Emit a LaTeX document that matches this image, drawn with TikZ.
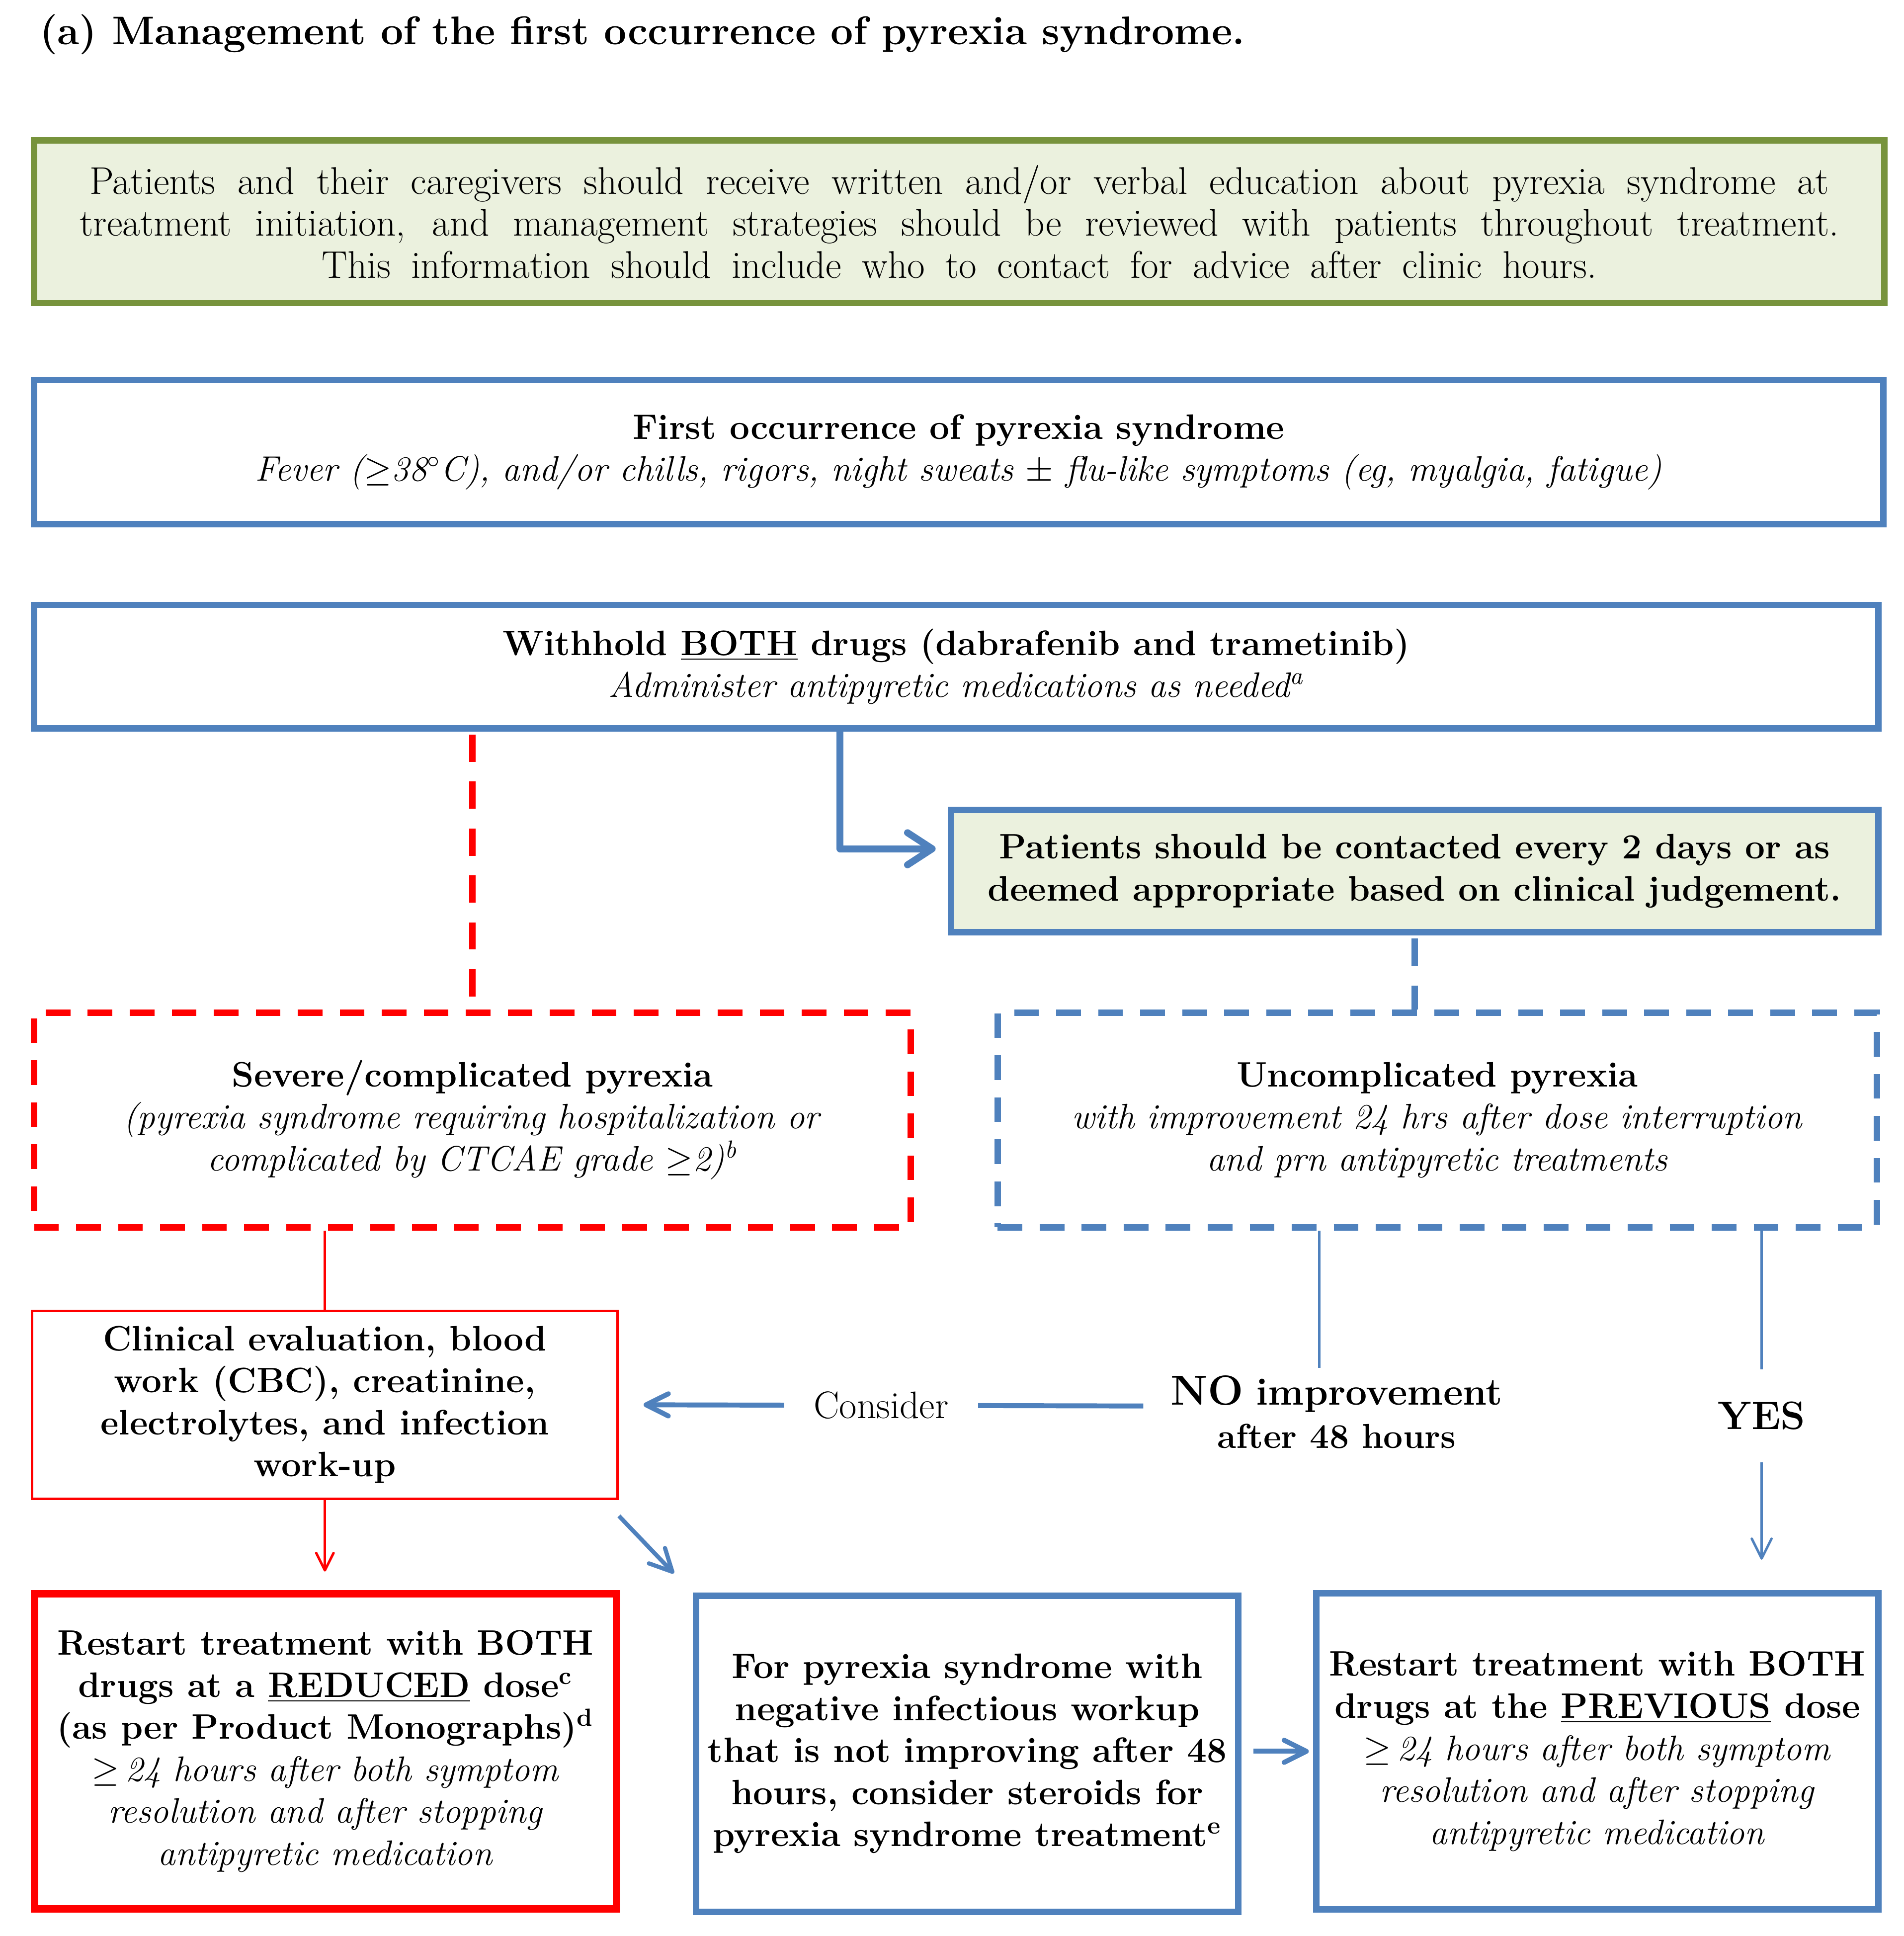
\documentclass[tikz,border=0pt]{standalone}
\usetikzlibrary{arrows.meta}
\definecolor{boxblue}{HTML}{4F81BD}
\definecolor{boxgreen}{HTML}{77933C}
\definecolor{lightgreen}{HTML}{EBF1DE}
\begin{document}
\begin{tikzpicture}[x=0.5pt,y=-0.5pt]

    \tikzset{flowbox/.style={draw,shape=rectangle,align=center,inner sep=2pt,font=\fontsize{14.3}{17}\selectfont},
        bluebox/.style={flowbox,draw=boxblue,line width=2.6pt},
        barbtip/.style={-{Straight Barb[round,length=#1,width=#1]}}}
    \useasboundingbox (0,0) rectangle (1541,1567);

    \node[anchor=west,inner sep=0pt,font=\fontsize{16.2}{19}\selectfont\bfseries] (title) at (32,28)
        {(a) Management of the first occurrence of pyrexia syndrome.};

    \node[flowbox,draw=boxgreen,fill=lightgreen,line width=2.6pt,font=\fontsize{15.6}{17}\selectfont,minimum width=748.9pt,minimum height=65.9pt] (edu) at (776.5,179.5)
        {\makebox[704pt][s]{Patients and their caregivers should receive written and/or verbal education about pyrexia syndrome at}\\
         \makebox[712pt][s]{treatment initiation, and management strategies should be reviewed with patients throughout treatment.}\\
         \makebox[516pt][s]{This information should include who to contact for advice after clinic hours.}};
    \node[bluebox,minimum width=748.4pt,minimum height=58.4pt] (first) at (776,366)
        {\textbf{First occurrence of pyrexia syndrome}\\
         \textit{Fever ($\geq$38$^{\circ}$C), and/or chills, rigors, night sweats $\pm$ flu-like symptoms (eg, myalgia, fatigue)}};
    \node[bluebox,minimum width=746.4pt,minimum height=49.9pt] (hold) at (774,539.5)
        {\textbf{Withhold \underline{BOTH} drugs (dabrafenib and trametinib)}\\
         \textit{Administer antipyretic medications as needed\textsuperscript{a}}};
    \node[bluebox,fill=lightgreen,font=\fontsize{14.3}{17}\selectfont\bfseries,minimum width=375.4pt,minimum height=49.4pt] (contact) at (1145,705)
        {Patients should be contacted every 2 days or as\\deemed appropriate based on clinical judgement.};

    \node[flowbox,draw=red,line width=2.6pt,dash pattern=on 10pt off 7pt,minimum width=354.9pt,minimum height=86.9pt] (severe) at (382.5,906.5)
        {\textbf{Severe/complicated pyrexia}\\
         \textit{(pyrexia syndrome requiring hospitalization or}\\
         \textit{complicated by CTCAE grade $\geq$2)\textsuperscript{b}}};
    \node[bluebox,dash pattern=on 10pt off 7pt,minimum width=355.9pt,minimum height=86.9pt] (uncomp) at (1163.5,906.5)
        {\textbf{Uncomplicated pyrexia}\\
         \textit{with improvement 24 hrs after dose interruption}\\
         \textit{and prn antipyretic treatments}};

    \node[flowbox,draw=red,line width=1pt,font=\fontsize{14.3}{17}\selectfont\bfseries,minimum width=237pt,minimum height=76pt] (clin) at (263,1137)
        {Clinical evaluation, blood\\work (CBC), creatinine,\\electrolytes, and infection\\work-up};
    \node[align=center,inner xsep=11pt,inner ysep=3pt,font=\fontsize{14}{17.5}\selectfont\bfseries] (noimp) at (1082,1143)
        {{\fontsize{17}{17}\selectfont NO} {\fontsize{15.5}{17}\selectfont improvement}\\after 48 hours};
    \node[inner ysep=13pt,font=\fontsize{16}{19}\selectfont\bfseries] (yes) at (1426,1146) {YES};

    \node[flowbox,draw=red,line width=3pt,minimum width=235.5pt,minimum height=127.5pt] (reduced) at (263.5,1417.5)
        {\textbf{Restart treatment with BOTH}\\
         \textbf{drugs at a \underline{REDUCED} dose\textsuperscript{c}}\\
         \textbf{(as per Product Monographs)\textsuperscript{d}}\\
         \textit{$\geq$\,24 hours after both symptom}\\
         \textit{resolution and after stopping}\\
         \textit{antipyretic medication}};
    \node[bluebox,font=\fontsize{14.3}{17}\selectfont\bfseries,minimum width=219.4pt,minimum height=127.9pt] (steroid) at (783,1419.5)
        {For pyrexia syndrome with\\negative infectious workup\\that is not improving after 48\\hours, consider steroids for\\pyrexia syndrome treatment\textsuperscript{e}};
    \node[bluebox,minimum width=227.4pt,minimum height=127.9pt] (prev) at (1293,1417.5)
        {\textbf{Restart treatment with BOTH}\\
         \textbf{drugs at the \underline{PREVIOUS} dose}\\
         \textit{$\geq$\,24 hours after both symptom}\\
         \textit{resolution and after stopping}\\
         \textit{antipyretic medication}};

    \begin{scope}[red]
        \draw[line width=2.6pt,dash pattern=on 11pt off 8pt,shorten <=1.3pt] (hold.south -| severe.north) -- (severe.north);
        \draw[line width=1pt] (severe.south -| clin.north) -- (clin.north);
        \draw[line width=1pt,barbtip=7pt,shorten >=7.5pt] (clin.south) -- (clin.south |- reduced.north);
    \end{scope}

    \begin{scope}[boxblue]
        \draw[line width=2.8pt,line join=round,-{Straight Barb[round,length=10pt,width=13pt]},shorten >=4.8pt]
            ([xshift=-47pt]hold.south) |- ([yshift=9pt]contact.west);
        \draw[line width=2.6pt,dash pattern=on 11pt off 8pt,shorten <=1.3pt] (contact.south) -- (contact.south |- uncomp.north);
        \coordinate (notop) at ([xshift=-7pt]noimp.north);
        \draw[line width=1pt] (notop |- uncomp.south) -- (notop);
        \draw[line width=1pt] (yes.north |- uncomp.south) -- (yes.north);
        \draw[line width=1pt,barbtip=8pt,shorten >=12.3pt] (yes.south) -- (yes.south |- prev.north);
        \draw[line width=2pt,barbtip=9pt,shorten >=10pt] ([yshift=2.5pt]noimp.west) -- (clin.east)
            node[midway,fill=white,text=black,inner xsep=12pt,font=\fontsize{15.5}{17}\selectfont] (cons) {Consider};
        \draw[line width=1.7pt,barbtip=9pt] ([yshift=-6.5pt]clin.south east) -- ([xshift=-7.8pt,yshift=7.8pt]steroid.north west);
        \draw[line width=2pt,barbtip=9pt,shorten <=4.8pt,shorten >=1.8pt] (prev.west -| steroid.east) -- (prev.west);
    \end{scope}
\end{tikzpicture}
\end{document}
